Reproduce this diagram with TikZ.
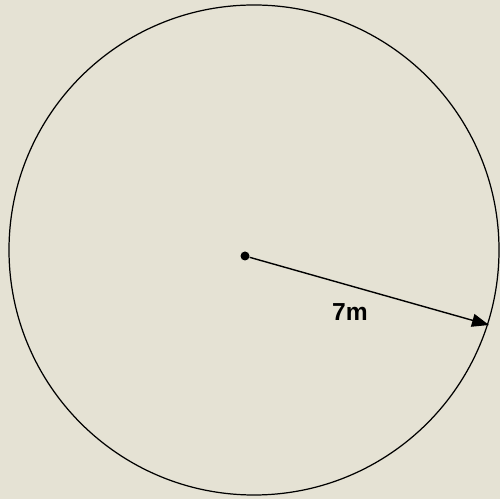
\documentclass[tikz,border=0pt]{standalone}
\usepackage{fontspec}
\setmainfont{Liberation Sans}
\usetikzlibrary{arrows.meta}
\definecolor{paper}{RGB}{229,226,212}

\begin{document}
\begin{tikzpicture}[x=0.02cm, y=-0.02cm,
  rim/.style={draw=black, line width=0.7pt},
  ctrdot/.style={circle, fill=black, inner sep=0pt, minimum size=1.8mm},
  radline/.style={draw=black, line width=0.8pt, -{Triangle[length=3.4mm, width=2.6mm]}},
  lbl/.style={font=\fontsize{14}{16}\selectfont\bfseries, inner sep=1pt}
]
\fill[paper] (0,0) rectangle (500,499);
\useasboundingbox (0,0) rectangle (500,499);

\draw[rim] (254,250) circle[radius=245];
\node[ctrdot] (ctr) at (245,256) {};
\coordinate (edge) at (489,325);
\draw[radline] (ctr) -- (edge);
\node[lbl] (len) at (350,312) {7m};

\end{tikzpicture}
\end{document}
